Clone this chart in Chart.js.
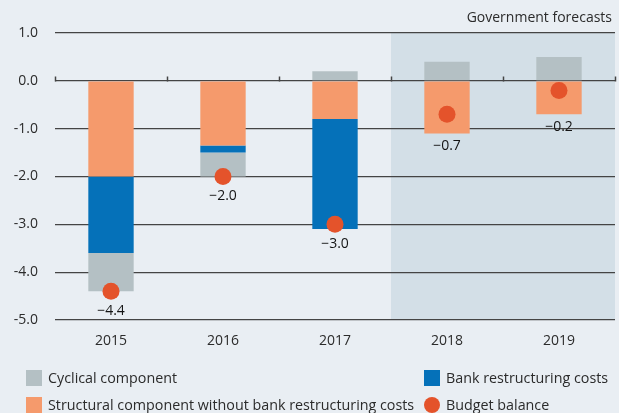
<!DOCTYPE html>
<html>
<head>
<meta charset="utf-8">
<script src="https://cdn.jsdelivr.net/npm/chart.js@4.4.1/dist/chart.umd.min.js"></script>
<style>
  html, body { margin: 0; padding: 0; background: #e9eef3; }
  #wrap { width: 619px; height: 413px; }
</style>
</head>
<body>
<div id="wrap"><canvas id="c" width="619" height="413"></canvas></div>
<script>
// data (% of GDP)
const years = ['2015', '2016', '2017', '2018', '2019'];
const structural = [-2.0, -1.35, -0.8, -1.1, -0.7];
const bank = [-1.6, -0.15, -2.3, 0, 0];
const cyclical = [-0.8, -0.5, 0.2, 0.4, 0.5];
const balance = [-4.4, -2.0, -3.0, -0.7, -0.2];
const forecastFrom = 3; // first forecast year index
const forecastLabel = 'Government forecasts';

const FONT = '"Open Sans", "Noto Sans", sans-serif';
const TXT = '#2b2b2b';

function fmt(v) {
  return (v < 0 ? '\u2212' : '') + Math.abs(v).toFixed(1);
}

const decor = {
  id: 'decor',
  beforeDraw(chart) {
    const { ctx, chartArea: a, scales: { x } } = chart;
    ctx.save();
    ctx.fillStyle = '#e9eef3';
    ctx.fillRect(0, 0, chart.width, chart.height);
    const xs = (x.getPixelForValue(forecastFrom - 1) + x.getPixelForValue(forecastFrom)) / 2;
    ctx.fillStyle = '#d3dfe7';
    ctx.fillRect(xs, a.top, a.right - xs, a.bottom - a.top);
    ctx.fillStyle = TXT;
    ctx.font = '14px ' + FONT;
    ctx.textAlign = 'right';
    ctx.textBaseline = 'middle';
    ctx.fillText(forecastLabel, a.right - 3, 18);
    ctx.restore();
  },
  beforeDatasetsDraw(chart) {
    // small ticks on the zero line between years
    const { ctx, scales: { x, y } } = chart;
    const half = (x.getPixelForValue(1) - x.getPixelForValue(0)) / 2;
    const y0 = Math.round(y.getPixelForValue(0)) + 0.5;
    ctx.save();
    ctx.strokeStyle = '#444';
    ctx.lineWidth = 1.5;
    for (let i = 0; i <= years.length; i++) {
      const px = Math.round(x.getPixelForValue(i) - half) + 0.5;
      ctx.beginPath();
      ctx.moveTo(px, y0 - 5);
      ctx.lineTo(px, y0);
      ctx.stroke();
    }
    ctx.restore();
  },
  afterDatasetsDraw(chart) {
    const { ctx, scales: { x, y } } = chart;
    ctx.save();
    ctx.fillStyle = '#141414';
    ctx.font = '14px ' + FONT;
    ctx.textAlign = 'center';
    ctx.textBaseline = 'middle';
    for (let i = 0; i < years.length; i++) {
      const neg = [structural[i], bank[i], cyclical[i]].filter(v => v < 0).reduce((s, v) => s + v, 0);
      const py = y.getPixelForValue(balance[i]) + 20;
      const pb = y.getPixelForValue(neg) + 13;
      ctx.fillText(fmt(balance[i]), x.getPixelForValue(i), Math.max(py, pb));
    }
    ctx.restore();
  },
  afterDraw(chart) {
    const { ctx } = chart;
    const ds = chart.data.datasets;
    // legend: [dataset index, x, y]
    const items = [[2, 26, 378], [1, 424, 378], [0, 26, 405], [3, 424, 405]];
    ctx.save();
    ctx.font = '14.3px ' + FONT;
    ctx.textBaseline = 'middle';
    ctx.textAlign = 'left';
    items.forEach(([k, lx, ly]) => {
      const d = ds[k];
      if (d.type === 'line') {
        ctx.fillStyle = d.pointBackgroundColor;
        ctx.beginPath();
        ctx.arc(lx + 8, ly, 8, 0, Math.PI * 2);
        ctx.fill();
      } else {
        ctx.fillStyle = d.backgroundColor;
        ctx.fillRect(lx, ly - 8, 16, 16);
      }
      ctx.fillStyle = TXT;
      ctx.fillText(d.label, lx + 22, ly + 1);
    });
    ctx.restore();
  }
};

new Chart(document.getElementById('c'), {
  data: {
    labels: years,
    datasets: [
      { type: 'bar', label: 'Structural component without bank restructuring costs', data: structural,
        backgroundColor: '#f59a6c', stack: 'main', order: 2 },
      { type: 'bar', label: 'Bank restructuring costs', data: bank,
        backgroundColor: '#0571b9', stack: 'main', order: 2 },
      { type: 'bar', label: 'Cyclical component', data: cyclical,
        backgroundColor: '#b4c0c4', stack: 'main', order: 2 },
      { type: 'line', label: 'Budget balance', data: balance, stack: 'bal', order: 1,
        showLine: false, pointRadius: 8.5, pointHoverRadius: 8.5, pointBorderWidth: 0,
        pointBackgroundColor: '#e4532b', borderColor: '#e4532b' }
    ]
  },
  options: {
    responsive: false,
    animation: false,
    events: [],
    layout: { autoPadding: false, padding: { top: 33, right: 4, left: 0, bottom: 0 } },
    plugins: { legend: { display: false }, tooltip: { enabled: false } },
    datasets: { bar: { categoryPercentage: 1, barPercentage: 0.405 } },
    scales: {
      x: {
        stacked: true,
        grid: { display: false, drawTicks: false },
        border: { display: false },
        ticks: { color: TXT, font: { family: FONT, size: 14 }, padding: 13 },
        afterFit(s) { s.height = 93; s.paddingLeft = 0; s.paddingRight = 0; }
      },
      y: {
        stacked: true,
        min: -5, max: 1,
        grid: { color: '#444', lineWidth: 1.3, drawTicks: false },
        border: { display: false },
        ticks: { stepSize: 1, color: TXT, font: { family: FONT, size: 14 }, padding: 17,
          callback: v => v.toFixed(1) },
        afterFit(s) { s.width = 55; }
      }
    }
  },
  plugins: [decor]
});
</script>
</body>
</html>
